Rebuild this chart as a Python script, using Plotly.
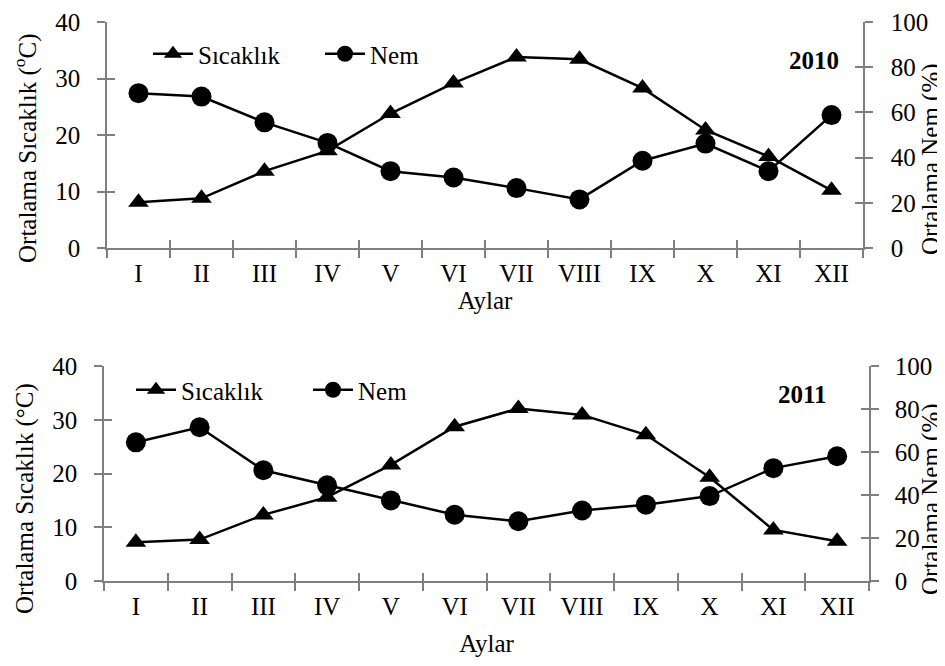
import plotly.graph_objects as go

months = ["I", "II", "III", "IV", "V", "VI", "VII", "VIII", "IX", "X", "XI", "XII"]
temp_2010 = [8.1, 8.8, 13.6, 17.2, 23.8, 29.2, 33.8, 33.4, 28.3, 20.9, 16.2, 10.2]
hum_2010 = [68.5, 67.0, 55.6, 46.5, 34.0, 31.2, 26.5, 21.5, 38.6, 46.2, 34.0, 58.8]
temp_2011 = [7.2, 7.7, 12.3, 15.6, 21.6, 28.7, 32.1, 30.9, 27.2, 19.3, 9.5, 7.4]
hum_2011 = [64.5, 71.5, 51.5, 44.5, 37.5, 30.8, 27.8, 32.8, 35.5, 39.5, 52.5, 58.0]
temp_ticks = [0, 10, 20, 30, 40]
hum_ticks = [0, 20, 40, 60, 80, 100]

FONT = "Liberation Serif"
FS = 25
AX = "#7f7f7f"
W, H = 945, 666

def fx(a, b):
    return [a / W, b / W]

def fy(top, bottom):
    return [1 - bottom / H, 1 - top / H]

d1x, d1y = fx(99, 855), fy(14, 240)
d2x, d2y = fx(96, 861), fy(358, 573)

fig = go.Figure()

line = dict(color="black", width=2.5)
tri = dict(symbol="triangle-up", size=18, color="black")
cir = dict(symbol="circle", size=20, color="black")

fig.add_trace(go.Scatter(x=months, y=temp_2010, name="Sıcaklık", mode="lines+markers",
                         line=line, marker=tri, xaxis="x", yaxis="y", legend="legend"))
fig.add_trace(go.Scatter(x=months, y=hum_2010, name="Nem", mode="lines+markers",
                         line=line, marker=cir, xaxis="x", yaxis="y2", legend="legend"))
fig.add_trace(go.Scatter(x=months, y=temp_2011, name="Sıcaklık", mode="lines+markers",
                         line=line, marker=tri, xaxis="x2", yaxis="y3", legend="legend2"))
fig.add_trace(go.Scatter(x=months, y=hum_2011, name="Nem", mode="lines+markers",
                         line=line, marker=cir, xaxis="x2", yaxis="y4", legend="legend2"))

# hidden traces for the inward tick overlay axes
for xa, ya in [("x3", "y"), ("x", "y5"), ("x", "y6"), ("x4", "y3"), ("x2", "y7"), ("x2", "y8")]:
    fig.add_trace(go.Scatter(x=[None], y=[None], xaxis=xa, yaxis=ya, showlegend=False,
                             hoverinfo="skip"))

tickfont = dict(family=FONT, size=FS, color="black")
txtfont = dict(family=FONT, size=FS, color="black")
boundaries = [i + 0.5 for i in range(len(months) - 1)]

def xmain(domain, anchor, title, standoff):
    return dict(domain=domain, anchor=anchor, type="category", categoryarray=months,
                range=[-0.5, len(months) - 0.5],
                showline=True, linecolor=AX, linewidth=1.5, ticks="outside", tickson="boundaries",
                ticklen=8, tickcolor=AX, tickwidth=1.5, showgrid=False, zeroline=False,
                tickfont=tickfont, ticklabelstandoff=2,
                title=dict(text=title, font=txtfont, standoff=standoff))

def xover(base, anchor):
    return dict(overlaying=base, anchor=anchor, range=[-0.5, len(months) - 0.5],
                tickmode="array", tickvals=boundaries, ticks="inside", ticklen=8,
                tickcolor=AX, tickwidth=1.5, showticklabels=False, showline=False,
                showgrid=False, zeroline=False, side="bottom")

def ymain(domain, anchor, rng, tv, side, lblstand, overlaying=None):
    d = dict(domain=domain, anchor=anchor, range=rng, tickmode="array", tickvals=tv,
             side=side, showline=True, linecolor=AX, linewidth=1.5, ticks="outside",
             ticklen=8, tickcolor=AX, tickwidth=1.5, showgrid=False, zeroline=False,
             tickfont=tickfont, ticklabelstandoff=lblstand)
    if overlaying:
        d["overlaying"] = overlaying
        d.pop("domain")
    return d

def yover(base, anchor, rng, tv, side):
    return dict(overlaying=base, anchor=anchor, range=rng, tickmode="array", tickvals=tv,
                side=side, ticks="inside", ticklen=8, tickcolor=AX, tickwidth=1.5,
                showticklabels=False, showline=False, showgrid=False, zeroline=False)

def ytitle(text, xpx, ypx):
    return dict(text=text, x=xpx / W, y=1 - ypx / H, xref="paper", yref="paper",
                xanchor="center", yanchor="middle", textangle=-90, showarrow=False,
                font=txtfont)

def label(text, xpx, ypx):
    return dict(text=text, x=xpx / W, y=1 - ypx / H, xref="paper", yref="paper",
                xanchor="center", yanchor="middle", showarrow=False, font=txtfont)

legfont = dict(family=FONT, size=FS, color="black")

fig.update_layout(
    width=W, height=H,
    margin=dict(l=0, r=0, t=0, b=0, autoexpand=False),
    paper_bgcolor="white", plot_bgcolor="white",
    font=dict(family=FONT, size=FS, color="black"),
    showlegend=True,
    xaxis=xmain(d1x, "y", "Aylar", 6),
    xaxis2=xmain(d2x, "y3", "Aylar", 16),
    xaxis3=xover("x", "y"),
    xaxis4=xover("x2", "y3"),
    yaxis=ymain(d1y, "x", [0, 40], temp_ticks, "left", 12),
    yaxis2=ymain(d1y, "x", [0, 100], hum_ticks, "right", 13, overlaying="y"),
    yaxis3=ymain(d2y, "x2", [0, 40], temp_ticks, "left", 12),
    yaxis4=ymain(d2y, "x2", [0, 100], hum_ticks, "right", 11, overlaying="y3"),
    yaxis5=yover("y", "x", [0, 40], temp_ticks, "left"),
    yaxis6=yover("y", "x", [0, 100], hum_ticks, "right"),
    yaxis7=yover("y3", "x2", [0, 40], temp_ticks, "left"),
    yaxis8=yover("y3", "x2", [0, 100], hum_ticks, "right"),
    legend=dict(orientation="h", x=140 / W, y=1 - 46 / H, xanchor="left", yanchor="middle",
                font=legfont, bgcolor="rgba(0,0,0,0)", entrywidth=117, entrywidthmode="pixels",
                itemwidth=40, traceorder="normal"),
    legend2=dict(orientation="h", x=123 / W, y=1 - 382 / H, xanchor="left", yanchor="middle",
                 font=legfont, bgcolor="rgba(0,0,0,0)", entrywidth=122, entrywidthmode="pixels",
                 itemwidth=40, traceorder="normal"),
    annotations=[
        ytitle("Ortalama Sıcaklık (<sup>o</sup>C)", 17, 140),
        ytitle("Ortalama Nem (%)", 923, 151),
        ytitle("Ortalama Sıcaklık (°C)", 17, 491),
        ytitle("Ortalama Nem (%)", 923, 491),
        label("<b>2010</b>", 806, 52),
        label("<b>2011</b>", 794, 387),
    ],
)

fig.write_html("out.html")
